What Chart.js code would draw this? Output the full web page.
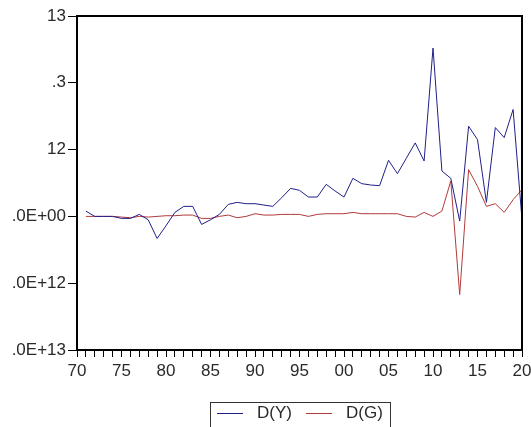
<!DOCTYPE html>
<html>
<head>
<meta charset="utf-8">
<script src="https://cdn.jsdelivr.net/npm/chart.js@4"></script>
<style>
  body { margin: 0; background: #fff; }
  #wrap { width: 531px; height: 427px; }
</style>
</head>
<body>
<div id="wrap"><canvas id="myChart" width="531" height="427"></canvas></div>
<script>
// years 1971..2020
const years = [];
for (let y = 1971; y <= 2020; y++) years.push(y);

// values (one unit = one y tick)
const dY = [0.08, 0.00, 0.00, 0.00, -0.03, -0.03, 0.03, -0.05, -0.33, -0.14,
            0.06, 0.15, 0.15, -0.12, -0.05, 0.03, 0.18, 0.21, 0.19, 0.19,
            0.17, 0.15, 0.28, 0.42, 0.39, 0.29, 0.29, 0.48, 0.38, 0.29,
            0.57, 0.49, 0.47, 0.46, 0.84, 0.64, 0.87, 1.10, 0.83, 2.52,
            0.68, 0.57, -0.07, 1.35, 1.15, 0.21, 1.33, 1.18, 1.60, -0.05];
const dG = [0.00, 0.00, 0.00, 0.00, -0.01, -0.02, 0.00, -0.01, 0.00, 0.01,
            0.01, 0.02, 0.02, -0.03, -0.03, 0.00, 0.02, -0.02, 0.00, 0.04,
            0.02, 0.02, 0.03, 0.03, 0.03, 0.00, 0.03, 0.04, 0.04, 0.04,
            0.06, 0.04, 0.04, 0.04, 0.04, 0.04, 0.00, -0.01, 0.06, 0.00,
            0.08, 0.53, -1.17, 0.70, 0.45, 0.15, 0.19, 0.06, 0.25, 0.40];

// y tick labels as they appear (cut off on the left)
const yTickLabels = { '3': '13', '2': '.3', '1': '12', '0': '.0E+00', '-1': '.0E+12', '-2': '.0E+13' };

const FONT = "'Liberation Sans', Arial, sans-serif";

function pts(vals) {
    return vals.map((v, i) => ({ x: years[i], y: v }));
}

// frame round the plot + the boxed legend under it
const framePlugin = {
    id: 'frames',
    afterDraw(chart) {
        const ctx = chart.ctx;
        const a = chart.chartArea;
        ctx.save();
        ctx.strokeStyle = '#000';
        ctx.lineWidth = 2;
        ctx.strokeRect(a.left, a.top, a.right - a.left, a.bottom - a.top);

        // legend
        ctx.lineWidth = 1;
        ctx.strokeStyle = '#333';
        ctx.strokeRect(210.5, 402.5, 180, 40);
        let x = 217;
        const y = 413;
        ctx.font = '17px ' + FONT;
        ctx.textBaseline = 'middle';
        ctx.fillStyle = '#2a2a2a';
        chart.data.datasets.forEach(ds => {
            ctx.strokeStyle = ds.borderColor;
            ctx.beginPath();
            ctx.moveTo(x, y + 0.5);
            ctx.lineTo(x + 26, y + 0.5);
            ctx.stroke();
            ctx.fillText(ds.label, x + 40, y);
            x += 89;
        });
        ctx.restore();
    }
};

const ctx = document.getElementById('myChart').getContext('2d');
const myChart = new Chart(ctx, {
    type: 'line',
    data: {
        datasets: [{
            label: 'D(Y)',
            data: pts(dY),
            borderColor: '#1f1f8a',
            borderWidth: 1,
            pointRadius: 0,
            tension: 0
        }, {
            label: 'D(G)',
            data: pts(dG),
            borderColor: '#b03a3a',
            borderWidth: 1,
            pointRadius: 0,
            tension: 0
        }]
    },
    options: {
        responsive: false,
        animation: false,
        layout: { padding: { top: 16, right: 9, left: 0, bottom: 0 } },
        plugins: {
            tooltip: { enabled: false },
            legend: { display: false }
        },
        scales: {
            x: {
                type: 'linear',
                min: 1970,
                max: 2020,
                afterFit(scale) {
                    scale.height = 77;
                    scale.paddingLeft = 0;
                    scale.paddingRight = 0;
                },
                ticks: {
                    stepSize: 1,
                    autoSkip: false,
                    maxRotation: 0,
                    color: '#2a2a2a',
                    padding: 4,
                    font: { family: FONT, size: 17 },
                    callback(v) {
                        if (v % 5 !== 0) return '';
                        return String(v % 100).padStart(2, '0');
                    }
                },
                grid: { drawOnChartArea: false, color: '#000', tickLength: 7, tickWidth: 1 },
                border: { display: false }
            },
            y: {
                min: -2,
                max: 3,
                afterFit(scale) { scale.width = 77; },
                ticks: {
                    stepSize: 1,
                    color: '#2a2a2a',
                    padding: 2,
                    font: { family: FONT, size: 17 },
                    callback(v) { return yTickLabels[String(v)]; }
                },
                grid: { drawOnChartArea: false, color: '#000', tickLength: 9, tickWidth: 1 },
                border: { display: false }
            }
        }
    },
    plugins: [framePlugin]
});
</script>
</body>
</html>
